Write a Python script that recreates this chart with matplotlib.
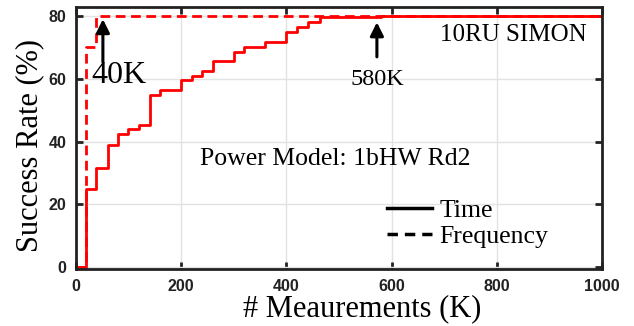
"""Success rate vs. number of measurements for 10RU SIMON (1bHW Rd2)."""

import matplotlib

matplotlib.use("Agg")
import matplotlib.pyplot as plt

# measurement counts (K) where the success rate steps up, and the new rate (%)
time_k = [0, 19, 38, 60, 80, 99, 120, 141, 160, 200, 220, 240, 260, 300,
          320, 360, 400, 421, 441, 463, 580, 1000]
time_rate = [0, 25, 31.5, 39, 42.4, 44, 45.4, 54.8, 56.4, 59.6, 61, 62.7,
             65.7, 68.6, 70.2, 71.9, 75.1, 76.7, 78.3, 79.8, 80, 80]

freq_k = [0, 19, 38, 1000]
freq_rate = [0, 70.2, 80, 80]

x_ticks = [0, 200, 400, 600, 800, 1000]
y_ticks = [0, 20, 40, 60, 80]

SERIF = "Liberation Serif"
SANS = "Liberation Sans"

fig = plt.figure(figsize=(6.34, 3.26), dpi=100)
ax = fig.add_axes([0.12, 0.175, 0.8295, 0.8035])

ax.step(time_k, time_rate, where="post", color="red", lw=2.0, label="Time")
ax.step(freq_k, freq_rate, where="post", color="red", lw=2.0,
        linestyle=(0, (3.5, 2)), label="Frequency")

ax.set_xlim(0, 1000)
ax.set_ylim(-0.6, 83)
ax.set_xticks(x_ticks)
ax.set_yticks(y_ticks)
ax.grid(True, color="#e2e2e2", lw=1.0)
ax.set_axisbelow(True)

for spine in ax.spines.values():
    spine.set_linewidth(2.0)
    spine.set_color("#222222")
ax.tick_params(direction="in", length=5, width=2, color="#222222",
               top=True, right=True, pad=7)
for label in ax.get_xticklabels() + ax.get_yticklabels():
    label.set_fontfamily(SANS)
    label.set_fontweight("bold")
    label.set_fontsize(11.5)
    label.set_color("#222222")

ax.set_xlabel("# Meaurements (K)", fontfamily=SERIF, fontsize=22)
ax.set_ylabel("Success Rate (%)", fontfamily=SERIF, fontsize=22)
ax.xaxis.set_label_coords(0.544, -0.095, transform=ax.transAxes)
ax.xaxis.label.set_va("top")
ax.yaxis.set_label_coords(-0.06, 0.473, transform=ax.transAxes)

arrow = dict(arrowstyle="-|>", color="black", lw=2.2, mutation_scale=20)
ax.annotate("", xy=(51, 80), xytext=(51, 64.5), arrowprops=arrow)
ax.text(81, 61, "40K", fontfamily=SERIF, fontsize=23, ha="center", va="center")
ax.annotate("", xy=(572, 79), xytext=(572, 66.2), arrowprops=arrow)
ax.text(573, 60, "580K", fontfamily=SERIF, fontsize=17.5, ha="center", va="center")

ax.text(831, 74, "10RU SIMON", fontfamily=SERIF, fontsize=18,
        ha="center", va="center")
ax.text(236, 34.4, "Power Model: 1bHW Rd2", fontfamily=SERIF, fontsize=18.5,
        ha="left", va="center")

leg_lines = [
    plt.Line2D([], [], color="black", lw=2.5, linestyle="-"),
    plt.Line2D([], [], color="black", lw=2.5, linestyle=(0, (3, 2))),
]
ax.legend(leg_lines, ["Time", "Frequency"], loc="lower right",
          bbox_to_anchor=(0.942, -0.01), frameon=False, handlelength=1.75,
          handletextpad=0.3, labelspacing=0.15,
          prop={"family": SERIF, "size": 18.5})

fig.savefig("out.png", dpi=100)
